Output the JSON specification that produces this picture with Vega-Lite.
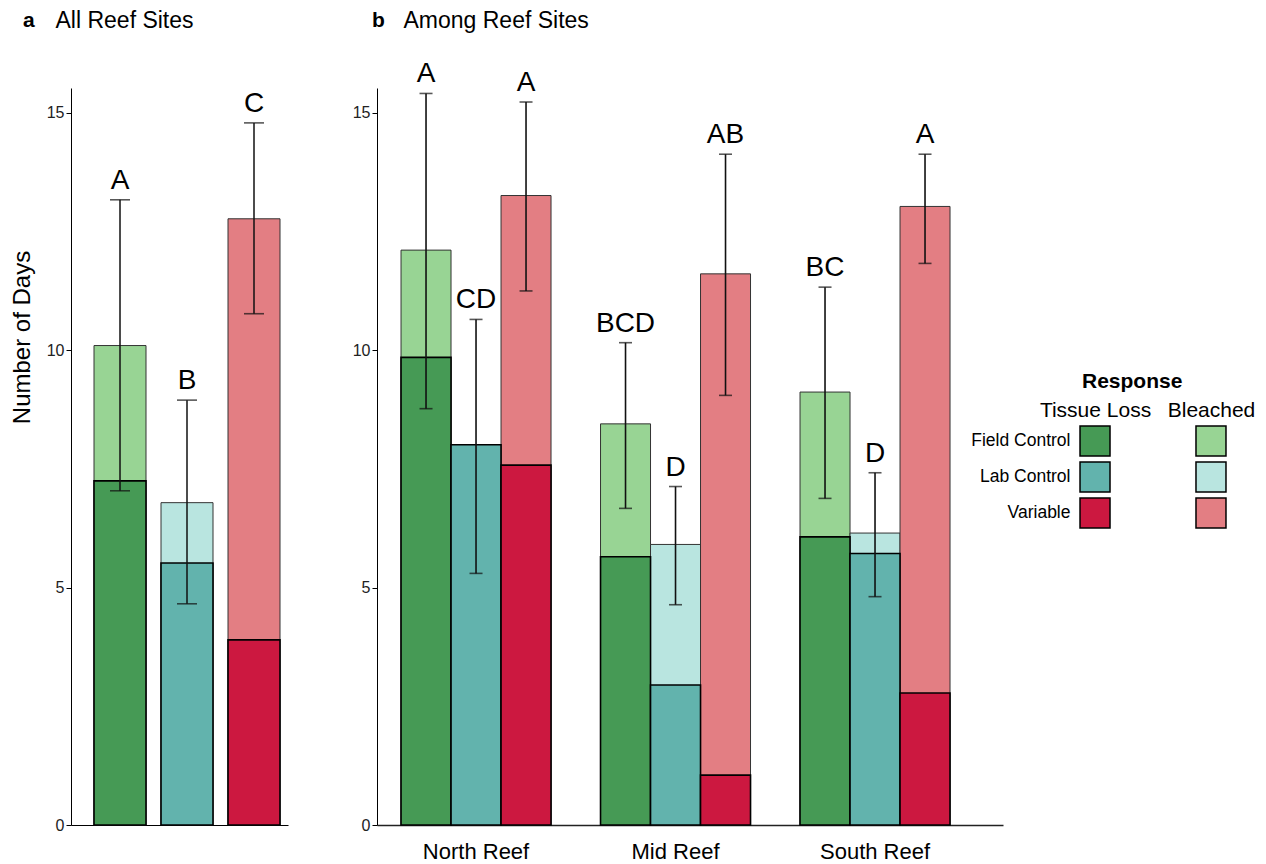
{
  "$schema": "https://vega.github.io/schema/vega-lite/v6.json",
  "padding": {"left": 10, "top": 9, "right": 3, "bottom": 2},
  "background": "white",
  "bounds": "flush",
  "center": true,
  "spacing": 89,
  "config": {
    "font": "Liberation Sans",
    "view": {"stroke": null},
    "axis": {"grid": false, "domainColor": "black", "tickColor": "black", "labelColor": "#222", "titleColor": "black", "labelFont": "Liberation Sans", "titleFont": "Liberation Sans", "titleFontWeight": "normal"},
    "title": {"font": "Liberation Sans", "color": "black"}
  },
  "datasets": {
    "bars": [
      {"Panel": "a", "Site": "All", "Treatment": "Field Control", "Response": "Bleached", "Key": "Field Control, Bleached", "Days": 10.1},
      {"Panel": "a", "Site": "All", "Treatment": "Lab Control", "Response": "Bleached", "Key": "Lab Control, Bleached", "Days": 6.79},
      {"Panel": "a", "Site": "All", "Treatment": "Variable", "Response": "Bleached", "Key": "Variable, Bleached", "Days": 12.77},
      {"Panel": "a", "Site": "All", "Treatment": "Field Control", "Response": "Tissue Loss", "Key": "Field Control, Tissue Loss", "Days": 7.25},
      {"Panel": "a", "Site": "All", "Treatment": "Lab Control", "Response": "Tissue Loss", "Key": "Lab Control, Tissue Loss", "Days": 5.52},
      {"Panel": "a", "Site": "All", "Treatment": "Variable", "Response": "Tissue Loss", "Key": "Variable, Tissue Loss", "Days": 3.9},
      {"Panel": "b", "Site": "North Reef", "Treatment": "Field Control", "Response": "Bleached", "Key": "Field Control, Bleached", "Days": 12.11},
      {"Panel": "b", "Site": "North Reef", "Treatment": "Lab Control", "Response": "Bleached", "Key": "Lab Control, Bleached", "Days": 8.01},
      {"Panel": "b", "Site": "North Reef", "Treatment": "Variable", "Response": "Bleached", "Key": "Variable, Bleached", "Days": 13.26},
      {"Panel": "b", "Site": "Mid Reef", "Treatment": "Field Control", "Response": "Bleached", "Key": "Field Control, Bleached", "Days": 8.45},
      {"Panel": "b", "Site": "Mid Reef", "Treatment": "Lab Control", "Response": "Bleached", "Key": "Lab Control, Bleached", "Days": 5.91},
      {"Panel": "b", "Site": "Mid Reef", "Treatment": "Variable", "Response": "Bleached", "Key": "Variable, Bleached", "Days": 11.61},
      {"Panel": "b", "Site": "South Reef", "Treatment": "Field Control", "Response": "Bleached", "Key": "Field Control, Bleached", "Days": 9.12},
      {"Panel": "b", "Site": "South Reef", "Treatment": "Lab Control", "Response": "Bleached", "Key": "Lab Control, Bleached", "Days": 6.15},
      {"Panel": "b", "Site": "South Reef", "Treatment": "Variable", "Response": "Bleached", "Key": "Variable, Bleached", "Days": 13.03},
      {"Panel": "b", "Site": "North Reef", "Treatment": "Field Control", "Response": "Tissue Loss", "Key": "Field Control, Tissue Loss", "Days": 9.85},
      {"Panel": "b", "Site": "North Reef", "Treatment": "Lab Control", "Response": "Tissue Loss", "Key": "Lab Control, Tissue Loss", "Days": 8.01},
      {"Panel": "b", "Site": "North Reef", "Treatment": "Variable", "Response": "Tissue Loss", "Key": "Variable, Tissue Loss", "Days": 7.58},
      {"Panel": "b", "Site": "Mid Reef", "Treatment": "Field Control", "Response": "Tissue Loss", "Key": "Field Control, Tissue Loss", "Days": 5.65},
      {"Panel": "b", "Site": "Mid Reef", "Treatment": "Lab Control", "Response": "Tissue Loss", "Key": "Lab Control, Tissue Loss", "Days": 2.95},
      {"Panel": "b", "Site": "Mid Reef", "Treatment": "Variable", "Response": "Tissue Loss", "Key": "Variable, Tissue Loss", "Days": 1.05},
      {"Panel": "b", "Site": "South Reef", "Treatment": "Field Control", "Response": "Tissue Loss", "Key": "Field Control, Tissue Loss", "Days": 6.07},
      {"Panel": "b", "Site": "South Reef", "Treatment": "Lab Control", "Response": "Tissue Loss", "Key": "Lab Control, Tissue Loss", "Days": 5.72},
      {"Panel": "b", "Site": "South Reef", "Treatment": "Variable", "Response": "Tissue Loss", "Key": "Variable, Tissue Loss", "Days": 2.78}
    ],
    "stats": [
      {"Panel": "a", "Site": "All", "Treatment": "Field Control", "Lo": 7.04, "Hi": 13.17, "Letter": "A"},
      {"Panel": "a", "Site": "All", "Treatment": "Lab Control", "Lo": 4.66, "Hi": 8.95, "Letter": "B"},
      {"Panel": "a", "Site": "All", "Treatment": "Variable", "Lo": 10.77, "Hi": 14.79, "Letter": "C"},
      {"Panel": "b", "Site": "North Reef", "Treatment": "Field Control", "Lo": 8.77, "Hi": 15.41, "Letter": "A"},
      {"Panel": "b", "Site": "North Reef", "Treatment": "Lab Control", "Lo": 5.3, "Hi": 10.65, "Letter": "CD"},
      {"Panel": "b", "Site": "North Reef", "Treatment": "Variable", "Lo": 11.25, "Hi": 15.23, "Letter": "A"},
      {"Panel": "b", "Site": "Mid Reef", "Treatment": "Field Control", "Lo": 6.67, "Hi": 10.16, "Letter": "BCD"},
      {"Panel": "b", "Site": "Mid Reef", "Treatment": "Lab Control", "Lo": 4.64, "Hi": 7.13, "Letter": "D"},
      {"Panel": "b", "Site": "Mid Reef", "Treatment": "Variable", "Lo": 9.05, "Hi": 14.13, "Letter": "AB"},
      {"Panel": "b", "Site": "South Reef", "Treatment": "Field Control", "Lo": 6.88, "Hi": 11.33, "Letter": "BC"},
      {"Panel": "b", "Site": "South Reef", "Treatment": "Lab Control", "Lo": 4.81, "Hi": 7.42, "Letter": "D"},
      {"Panel": "b", "Site": "South Reef", "Treatment": "Variable", "Lo": 11.83, "Hi": 14.13, "Letter": "A"}
    ],
    "legend": [
      {"Treatment": "Field Control", "Response": "Tissue Loss", "Key": "Field Control, Tissue Loss"},
      {"Treatment": "Lab Control", "Response": "Tissue Loss", "Key": "Lab Control, Tissue Loss"},
      {"Treatment": "Variable", "Response": "Tissue Loss", "Key": "Variable, Tissue Loss"},
      {"Treatment": "Field Control", "Response": "Bleached", "Key": "Field Control, Bleached"},
      {"Treatment": "Lab Control", "Response": "Bleached", "Key": "Lab Control, Bleached"},
      {"Treatment": "Variable", "Response": "Bleached", "Key": "Variable, Bleached"}
    ]
  },
  "hconcat": [
    {
      "width": 217,
      "height": 737,
      "title": {"text": "a", "anchor": "start", "frame": "group", "dx": -48, "offset": -22, "fontSize": 21, "fontWeight": "bold"},
      "resolve": {"axis": {"x": "independent"}},
      "layer": [
        {
          "data": {"name": "bars"},
          "transform": [{"filter": "datum.Panel == 'a' && datum.Response == 'Bleached'"}],
          "mark": {"type": "bar", "stroke": "#333", "strokeWidth": 1},
          "encoding": {
            "x": {"field": "Treatment", "type": "nominal", "sort": ["Field Control", "Lab Control", "Variable"], "scale": {"paddingInner": 0.2239, "paddingOuter": 0.2314, "align": 0.742}, "axis": {"orient": "bottom", "labels": false, "ticks": false, "title": null, "domainWidth": 1.2}},
            "y": {"field": "Days", "type": "quantitative", "stack": null, "title": "Number of Days", "scale": {"domain": [0, 15.525], "nice": false, "zero": true}, "axis": {"values": [0, 5, 10, 15], "tickSize": 5, "labelPadding": 2, "labelFontSize": 16, "titleFontSize": 24, "titlePadding": 12, "titleY": 249}},
            "color": {"field": "Key", "type": "nominal", "legend": null, "scale": {"domain": ["Field Control, Tissue Loss", "Field Control, Bleached", "Lab Control, Tissue Loss", "Lab Control, Bleached", "Variable, Tissue Loss", "Variable, Bleached"], "range": ["#469a55", "#98d494", "#62b3ad", "#b9e5e0", "#cc1840", "#e37e83"]}}
          }
        },
        {
          "data": {"name": "bars"},
          "transform": [{"filter": "datum.Panel == 'a' && datum.Response == 'Tissue Loss'"}],
          "mark": {"type": "bar", "stroke": "black", "strokeWidth": 1.6},
          "encoding": {
            "x": {"field": "Treatment", "type": "nominal", "sort": ["Field Control", "Lab Control", "Variable"], "axis": {"orient": "top", "labels": false, "ticks": false, "domain": false, "title": "All Reef Sites", "titleFontSize": 23, "titleFontWeight": "normal", "titleColor": "black", "titleAnchor": "start", "titleAlign": "left", "titleBaseline": "alphabetic", "titleX": -16, "titleY": -61}},
            "y": {"field": "Days", "type": "quantitative", "stack": null, "title": "Number of Days", "scale": {"domain": [0, 15.525], "nice": false, "zero": true}},
            "color": {"field": "Key", "type": "nominal", "legend": null}
          }
        },
        {
          "data": {"name": "stats"},
          "transform": [{"filter": "datum.Panel == 'a'"}],
          "mark": {"type": "rule", "color": "#111", "strokeWidth": 1.5},
          "encoding": {
            "x": {"field": "Treatment", "type": "nominal", "sort": ["Field Control", "Lab Control", "Variable"], "axis": null},
            "y": {"field": "Lo", "type": "quantitative", "title": "Number of Days", "scale": {"domain": [0, 15.525], "nice": false, "zero": true}},
            "y2": {"field": "Hi"}
          }
        },
        {
          "data": {"name": "stats"},
          "transform": [{"filter": "datum.Panel == 'a'"}],
          "mark": {"type": "tick", "orient": "horizontal", "color": "#111", "size": 20, "thickness": 1.6},
          "encoding": {
            "x": {"field": "Treatment", "type": "nominal", "sort": ["Field Control", "Lab Control", "Variable"], "axis": null},
            "y": {"field": "Lo", "type": "quantitative", "title": "Number of Days", "scale": {"domain": [0, 15.525], "nice": false, "zero": true}}
          }
        },
        {
          "data": {"name": "stats"},
          "transform": [{"filter": "datum.Panel == 'a'"}],
          "mark": {"type": "tick", "orient": "horizontal", "color": "#111", "size": 20, "thickness": 1.6},
          "encoding": {
            "x": {"field": "Treatment", "type": "nominal", "sort": ["Field Control", "Lab Control", "Variable"], "axis": null},
            "y": {"field": "Hi", "type": "quantitative", "title": "Number of Days", "scale": {"domain": [0, 15.525], "nice": false, "zero": true}}
          }
        },
        {
          "data": {"name": "stats"},
          "transform": [{"filter": "datum.Panel == 'a'"}],
          "mark": {"type": "text", "baseline": "bottom", "dy": -5, "fontSize": 28, "color": "black", "font": "Liberation Sans"},
          "encoding": {
            "x": {"field": "Treatment", "type": "nominal", "sort": ["Field Control", "Lab Control", "Variable"], "axis": null},
            "y": {"field": "Hi", "type": "quantitative", "title": "Number of Days", "scale": {"domain": [0, 15.525], "nice": false, "zero": true}},
            "text": {"field": "Letter"}
          }
        }
      ]
    },
    {
      "width": 626,
      "height": 737,
      "title": {"text": "b", "anchor": "start", "frame": "group", "dx": -5, "offset": -22, "fontSize": 21, "fontWeight": "bold"},
      "resolve": {"axis": {"x": "independent"}},
      "encoding": {
        "xOffset": {"field": "Treatment", "type": "nominal", "sort": ["Field Control", "Lab Control", "Variable"], "scale": {"paddingInner": 0, "paddingOuter": 0}}
      },
      "layer": [
        {
          "data": {"name": "bars"},
          "transform": [{"filter": "datum.Panel == 'b' && datum.Response == 'Bleached'"}],
          "mark": {"type": "bar", "stroke": "#333", "strokeWidth": 1},
          "encoding": {
            "x": {"field": "Site", "type": "nominal", "sort": ["North Reef", "Mid Reef", "South Reef"], "scale": {"paddingInner": 0.2481, "paddingOuter": 0.193, "align": 0.312}, "axis": {"orient": "bottom", "ticks": false, "title": null, "labelAngle": 0, "labelFontSize": 22, "labelColor": "black", "labelPadding": 16, "domainWidth": 1.6, "domainColor": "#222"}},
            "y": {"field": "Days", "type": "quantitative", "stack": null, "title": null, "scale": {"domain": [0, 15.525], "nice": false, "zero": true}, "axis": {"values": [0, 5, 10, 15], "tickSize": 5, "labelPadding": 2, "labelFontSize": 16}},
            "color": {"field": "Key", "type": "nominal", "legend": null, "scale": {"domain": ["Field Control, Tissue Loss", "Field Control, Bleached", "Lab Control, Tissue Loss", "Lab Control, Bleached", "Variable, Tissue Loss", "Variable, Bleached"], "range": ["#469a55", "#98d494", "#62b3ad", "#b9e5e0", "#cc1840", "#e37e83"]}}
          }
        },
        {
          "data": {"name": "bars"},
          "transform": [{"filter": "datum.Panel == 'b' && datum.Response == 'Tissue Loss'"}],
          "mark": {"type": "bar", "stroke": "black", "strokeWidth": 1.6},
          "encoding": {
            "x": {"field": "Site", "type": "nominal", "sort": ["North Reef", "Mid Reef", "South Reef"], "axis": {"orient": "top", "labels": false, "ticks": false, "domain": false, "title": "Among Reef Sites", "titleFontSize": 23, "titleFontWeight": "normal", "titleColor": "black", "titleAnchor": "start", "titleAlign": "left", "titleBaseline": "alphabetic", "titleX": 26, "titleY": -61}},
            "y": {"field": "Days", "type": "quantitative", "stack": null, "title": null, "scale": {"domain": [0, 15.525], "nice": false, "zero": true}},
            "color": {"field": "Key", "type": "nominal", "legend": null}
          }
        },
        {
          "data": {"name": "stats"},
          "transform": [{"filter": "datum.Panel == 'b'"}],
          "mark": {"type": "rule", "color": "#111", "strokeWidth": 1.6},
          "encoding": {
            "x": {"field": "Site", "type": "nominal", "sort": ["North Reef", "Mid Reef", "South Reef"], "axis": null},
            "y": {"field": "Lo", "type": "quantitative", "title": null, "scale": {"domain": [0, 15.525], "nice": false, "zero": true}},
            "y2": {"field": "Hi"}
          }
        },
        {
          "data": {"name": "stats"},
          "transform": [{"filter": "datum.Panel == 'b'"}],
          "mark": {"type": "tick", "orient": "horizontal", "color": "#111", "size": 13, "thickness": 1.6},
          "encoding": {
            "x": {"field": "Site", "type": "nominal", "sort": ["North Reef", "Mid Reef", "South Reef"], "axis": null},
            "y": {"field": "Lo", "type": "quantitative", "title": null, "scale": {"domain": [0, 15.525], "nice": false, "zero": true}}
          }
        },
        {
          "data": {"name": "stats"},
          "transform": [{"filter": "datum.Panel == 'b'"}],
          "mark": {"type": "tick", "orient": "horizontal", "color": "#111", "size": 13, "thickness": 1.6},
          "encoding": {
            "x": {"field": "Site", "type": "nominal", "sort": ["North Reef", "Mid Reef", "South Reef"], "axis": null},
            "y": {"field": "Hi", "type": "quantitative", "title": null, "scale": {"domain": [0, 15.525], "nice": false, "zero": true}}
          }
        },
        {
          "data": {"name": "stats"},
          "transform": [{"filter": "datum.Panel == 'b'"}],
          "mark": {"type": "text", "baseline": "bottom", "dy": -5, "fontSize": 28, "color": "black", "font": "Liberation Sans"},
          "encoding": {
            "x": {"field": "Site", "type": "nominal", "sort": ["North Reef", "Mid Reef", "South Reef"], "axis": null},
            "y": {"field": "Hi", "type": "quantitative", "title": null, "scale": {"domain": [0, 15.525], "nice": false, "zero": true}},
            "text": {"field": "Letter"}
          }
        }
      ]
    },
    {
      "width": 122,
      "height": 180,
      "title": {"text": "Response", "anchor": "start", "frame": "group", "dx": -10, "offset": -25.5, "fontSize": 21, "fontWeight": "bold"},
      "data": {"name": "legend"},
      "mark": {"type": "point", "shape": "square", "size": 900, "filled": true, "stroke": "black", "strokeWidth": 1.5, "opacity": 1},
      "encoding": {
        "x": {"field": "Response", "type": "nominal", "sort": ["Tissue Loss", "Bleached"], "scale": {"type": "point", "padding": 0.026}, "axis": {"orient": "top", "title": null, "domain": false, "ticks": false, "labelAngle": 0, "labelFontSize": 21, "labelColor": "black", "labelPadding": 4, "offset": -57.5}},
        "y": {"field": "Treatment", "type": "nominal", "sort": ["Field Control", "Lab Control", "Variable"], "scale": {"type": "band", "paddingInner": 0, "paddingOuter": 1, "align": 0.7847}, "axis": {"title": null, "domain": false, "ticks": false, "labelFontSize": 17.5, "labelColor": "black", "labelPadding": 22}},
        "color": {"field": "Key", "type": "nominal", "legend": null, "scale": {"domain": ["Field Control, Tissue Loss", "Field Control, Bleached", "Lab Control, Tissue Loss", "Lab Control, Bleached", "Variable, Tissue Loss", "Variable, Bleached"], "range": ["#469a55", "#98d494", "#62b3ad", "#b9e5e0", "#cc1840", "#e37e83"]}}
      }
    }
  ]
}
